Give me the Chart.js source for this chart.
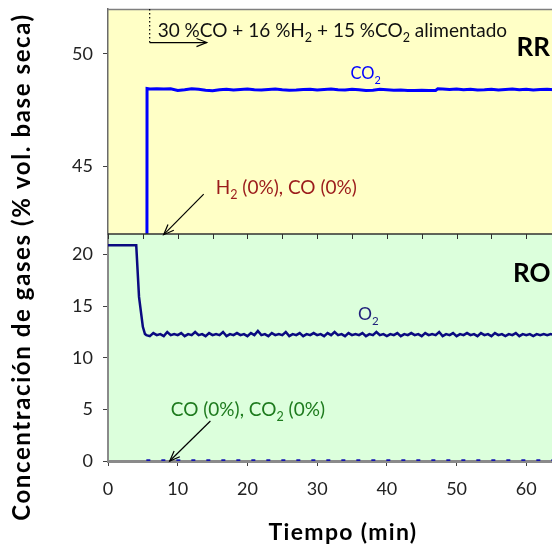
<!DOCTYPE html>
<html>
<head>
<meta charset="utf-8">
<script src="https://cdn.jsdelivr.net/npm/chart.js@4.4.1/dist/chart.umd.min.js"></script>
<style>
html,body{margin:0;padding:0;background:#fff;overflow:hidden;width:552px;height:548px;}
#wrap{position:absolute;left:0;top:0;width:600px;height:548px;}
</style>
</head>
<body>
<div id="wrap"><canvas id="c" width="600" height="548"></canvas></div>
<script>
// ---------- data ----------
const xTicks = [0, 10, 20, 30, 40, 50, 60];
const topTicks = [45, 50];
const botTicks = [0, 5, 10, 15, 20];

// RR (top panel): CO2 in outlet
const co2Time = [0, 5.5, 5.6, 6, 7, 8, 9, 10, 11, 12, 13, 14, 15, 16, 17, 18, 19, 20, 21, 22, 23, 24, 25, 26, 27, 28, 29, 30, 31, 32, 33, 34, 35, 36, 37, 38, 39, 40, 41, 42, 43, 44, 45, 46, 47, 47.3, 48, 49, 50, 51, 52, 53, 54, 55, 56, 57, 58, 59, 60, 61, 62, 63, 64];
const co2Val  = [0, 0, 48.47, 48.45, 48.46, 48.44, 48.45, 48.38, 48.41, 48.46, 48.43, 48.39, 48.37, 48.41, 48.43, 48.40, 48.42, 48.44, 48.41, 48.40, 48.42, 48.44, 48.41, 48.39, 48.40, 48.42, 48.43, 48.40, 48.42, 48.44, 48.41, 48.40, 48.43, 48.41, 48.38, 48.39, 48.43, 48.41, 48.39, 48.40, 48.38, 48.38, 48.39, 48.38, 48.38, 48.45, 48.44, 48.42, 48.44, 48.41, 48.43, 48.40, 48.41, 48.43, 48.40, 48.42, 48.44, 48.41, 48.43, 48.40, 48.42, 48.43, 48.41];

// RO (bottom panel): O2 in outlet
const o2Time = [0, 1, 2, 3, 4, 4.05, 4.45, 5.0, 5.3, 5.5, 6.0, 6.5, 7.0, 7.5, 8.0, 8.5, 9.0, 9.5, 10.0, 10.5, 11.0, 11.5, 12.0, 12.5, 13.0, 13.5, 14.0, 14.5, 15.0, 15.5, 16.0, 16.5, 17.0, 17.5, 18.0, 18.5, 19.0, 19.5, 20.0, 20.5, 21.0, 21.5, 22.0, 22.5, 23.0, 23.5, 24.0, 24.5, 25.0, 25.5, 26.0, 26.5, 27.0, 27.5, 28.0, 28.5, 29.0, 29.5, 30.0, 30.5, 31.0, 31.5, 32.0, 32.5, 33.0, 33.5, 34.0, 34.5, 35.0, 35.5, 36.0, 36.5, 37.0, 37.5, 38.0, 38.5, 39.0, 39.5, 40.0, 40.5, 41.0, 41.5, 42.0, 42.5, 43.0, 43.5, 44.0, 44.5, 45.0, 45.5, 46.0, 46.5, 47.0, 47.5, 48.0, 48.5, 49.0, 49.5, 50.0, 50.5, 51.0, 51.5, 52.0, 52.5, 53.0, 53.5, 54.0, 54.5, 55.0, 55.5, 56.0, 56.5, 57.0, 57.5, 58.0, 58.5, 59.0, 59.5, 60.0, 60.5, 61.0, 61.5, 62.0, 62.5, 63.0, 63.5, 64.0];
const o2Val  = [20.9, 20.9, 20.9, 20.9, 20.9, 20.9, 15.9, 13.0, 12.3, 12.2, 12.1, 12.4, 12.2, 12.3, 12.1, 12.5, 12.2, 12.3, 12.2, 12.4, 12.1, 12.3, 12.2, 12.5, 12.2, 12.3, 12.1, 12.4, 12.2, 12.3, 12.2, 12.5, 12.1, 12.3, 12.2, 12.4, 12.2, 12.3, 12.1, 12.4, 12.2, 12.6, 12.2, 12.3, 12.1, 12.4, 12.2, 12.3, 12.2, 12.5, 12.1, 12.3, 12.2, 12.4, 12.1, 12.3, 12.2, 12.4, 12.2, 12.3, 12.1, 12.4, 12.2, 12.5, 12.2, 12.3, 12.1, 12.4, 12.2, 12.3, 12.2, 12.4, 12.1, 12.3, 12.2, 12.5, 12.2, 12.3, 12.1, 12.3, 12.2, 12.4, 12.1, 12.3, 12.2, 12.4, 12.2, 12.3, 12.1, 12.4, 12.2, 12.3, 12.2, 12.5, 12.1, 12.3, 12.2, 12.4, 12.1, 12.3, 12.2, 12.4, 12.2, 12.3, 12.1, 12.4, 12.2, 12.3, 12.1, 12.4, 12.2, 12.3, 12.1, 12.3, 12.2, 12.4, 12.1, 12.3, 12.2, 12.3, 12.1, 12.3, 12.2, 12.3, 12.2, 12.3, 12.2];

// RO: CO and CO2 stay at 0 %
const zeroTime = [5.5, 64];
const coROVal  = [0, 0];

const toXY = (t, v) => t.map((x, i) => ({ x: x, y: v[i] }));

// ---------- annotations (data coordinates) ----------
const FONT = 'Lato';
const texts = [
  { axis: 'yTop', x: 7.13, y: 50.77, size: 19, weight: 'normal', color: '#111',
    parts: [{t: '30 %CO + 16 %H'}, {t: '2', sub: true}, {t: ' + 15 %CO'}, {t: '2', sub: true}, {t: ' alimentado'}] },
  { axis: 'yTop', x: 58.6, y: 49.93, size: 26, weight: 'bold', color: '#000', parts: [{t: 'RR'}] },
  { axis: 'yTop', x: 34.78, y: 48.87, size: 16.5, weight: 'normal', color: '#0000ff', parts: [{t: 'CO'}, {t: '2', sub: true}] },
  { axis: 'yTop', x: 15.45, y: 43.77, size: 19, weight: 'normal', color: '#9b1b1b',
    parts: [{t: 'H'}, {t: '2', sub: true}, {t: ' (0%), CO (0%)'}] },
  { axis: 'yBot', x: 58.1, y: 17.35, size: 26, weight: 'bold', color: '#000', parts: [{t: 'RO'}] },
  { axis: 'yBot', x: 35.87, y: 13.7, size: 17.5, weight: 'normal', color: '#1f1f7a', parts: [{t: 'O'}, {t: '2', sub: true}] },
  { axis: 'yBot', x: 9.0, y: 4.36, size: 19, weight: 'normal', color: '#1e7b1e',
    parts: [{t: 'CO (0%), CO'}, {t: '2', sub: true}, {t: ' (0%)'}] }
];
const arrows = [
  { axis: 'yTop', x1: 5.98, y1: 50.51, x2: 14.16, y2: 50.51 },
  { axis: 'yTop', x1: 13.73, y1: 43.77, x2: 7.99, y2: 41.97 },
  { axis: 'yBot', x1: 14.69, y1: 3.88, x2: 8.85, y2: 0.0 }
];
const feedLine = { axis: 'yTop', x: 5.98, y1: 52, y2: 50.51 };

function drawRich(ctx, x, y, a) {
  ctx.fillStyle = a.color; ctx.textAlign = 'left'; ctx.textBaseline = 'alphabetic';
  for (const p of a.parts) {
    const s = p.sub ? a.size * 0.66 : a.size;
    ctx.font = a.weight + ' ' + s + 'px ' + FONT;
    ctx.fillText(p.t, x, y + (p.sub ? a.size * 0.28 : 0));
    x += ctx.measureText(p.t).width;
  }
}
function drawArrow(ctx, x1, y1, x2, y2) {
  ctx.strokeStyle = '#000'; ctx.lineWidth = 1.2;
  ctx.beginPath(); ctx.moveTo(x1, y1); ctx.lineTo(x2, y2); ctx.stroke();
  const ang = Math.atan2(y2 - y1, x2 - x1), L = 11, w = 0.38;
  ctx.beginPath();
  ctx.moveTo(x2 - L * Math.cos(ang - w), y2 - L * Math.sin(ang - w));
  ctx.lineTo(x2, y2);
  ctx.lineTo(x2 - L * Math.cos(ang + w), y2 - L * Math.sin(ang + w));
  ctx.stroke();
}

const panelPlugin = {
  id: 'panels',
  beforeDraw(chart) {
    const ctx = chart.ctx, ca = chart.chartArea, s = chart.scales;
    ctx.save();
    ctx.fillStyle = '#fff'; ctx.fillRect(0, 0, chart.width, chart.height);
    ctx.fillStyle = '#ffffc6';
    ctx.fillRect(ca.left, s.yTop.top, ca.right - ca.left, s.yTop.bottom - s.yTop.top);
    ctx.fillStyle = '#dcffdc';
    ctx.fillRect(ca.left, s.yBot.top, ca.right - ca.left, s.yBot.bottom - s.yBot.top);
    ctx.restore();
  },
  beforeDatasetDraw(chart, args) {
    const ctx = chart.ctx, ca = chart.chartArea, ys = args.meta.yScale;
    ctx.save();
    ctx.beginPath();
    ctx.rect(ca.left, ys.top, ca.right - ca.left, ys.bottom - ys.top + (ys.id === 'yBot' ? 4 : 0));
    ctx.clip();
  },
  afterDatasetDraw(chart) { chart.ctx.restore(); },
  afterDraw(chart) {
    const ctx = chart.ctx, ca = chart.chartArea, s = chart.scales, xs = s.x;
    ctx.save();
    // top border of RR panel
    ctx.strokeStyle = '#7f7f7f'; ctx.lineWidth = 1.5;
    ctx.beginPath(); ctx.moveTo(ca.left, s.yTop.top + 0.5); ctx.lineTo(ca.right, s.yTop.top + 0.5); ctx.stroke();
    // boundary between panels with minor ticks
    const yb = s.yTop.bottom;
    ctx.strokeStyle = '#303030'; ctx.lineWidth = 1.5;
    ctx.beginPath(); ctx.moveTo(ca.left, yb); ctx.lineTo(ca.right, yb); ctx.stroke();
    ctx.lineWidth = 1;
    for (let v = xs.min; v <= xs.max; v += 5) {
      const px = Math.round(xs.getPixelForValue(v)) + 0.5;
      ctx.beginPath(); ctx.moveTo(px, yb); ctx.lineTo(px, yb + 5); ctx.stroke();
    }
    // feed marker (dotted)
    ctx.strokeStyle = '#000'; ctx.lineWidth = 1.2; ctx.setLineDash([1.5, 2.5]);
    const fx = xs.getPixelForValue(feedLine.x);
    ctx.beginPath(); ctx.moveTo(fx, s.yTop.getPixelForValue(feedLine.y1)); ctx.lineTo(fx, s.yTop.getPixelForValue(feedLine.y2)); ctx.stroke();
    ctx.setLineDash([]);
    for (const a of arrows) {
      const ys = s[a.axis];
      drawArrow(ctx, xs.getPixelForValue(a.x1), ys.getPixelForValue(a.y1), xs.getPixelForValue(a.x2), ys.getPixelForValue(a.y2));
    }
    for (const a of texts) {
      const ys = s[a.axis];
      drawRich(ctx, xs.getPixelForValue(a.x), ys.getPixelForValue(a.y), a);
    }
    // axis titles
    ctx.fillStyle = '#000'; ctx.textAlign = 'center'; ctx.textBaseline = 'middle';
    ctx.letterSpacing = '1.3px';
    ctx.font = 'bold 23px ' + FONT;
    ctx.fillText('Tiempo (min)', 343, 533);
    ctx.translate(22, 267); ctx.rotate(-Math.PI / 2);
    ctx.letterSpacing = '1.6px';
    ctx.font = 'bold 24px ' + FONT;
    ctx.fillText('Concentración de gases (% vol. base seca)', 0, 0);
    ctx.restore();
  }
};

const noPadY = (sc) => { sc.width = 108; sc.paddingTop = 0; sc.paddingBottom = 0; };
const tickFont = { family: FONT, size: 18 };
new Chart(document.getElementById('c'), {
  type: 'line',
  data: {
    datasets: [
      { label: 'CO2 (RR)', data: toXY(co2Time, co2Val), yAxisID: 'yTop', borderColor: '#0000ff', borderWidth: 3, pointRadius: 0, tension: 0 },
      { label: 'CO, CO2 (RO)', data: toXY(zeroTime, coROVal), yAxisID: 'yBot', borderColor: '#1515b0', borderWidth: 3.5, borderDash: [4, 11], pointRadius: 0, tension: 0 },
      { label: 'O2 (RO)', data: toXY(o2Time, o2Val), yAxisID: 'yBot', borderColor: '#0a0a80', borderWidth: 2.5, pointRadius: 0, tension: 0 }
    ]
  },
  options: {
    responsive: false, animation: false, devicePixelRatio: 1,
    layout: { padding: { top: 9, left: 0, right: 4, bottom: 0 } },
    plugins: { legend: { display: false }, tooltip: { enabled: false } },
    scales: {
      x: {
        type: 'linear', min: 0, max: 70, position: 'bottom',
        afterBuildTicks: (sc) => { sc.ticks = xTicks.map(v => ({ value: v })); },
        afterFit: (sc) => { sc.height = 87; sc.paddingLeft = 0; sc.paddingRight = 0; },
        ticks: { font: tickFont, color: '#222', padding: 12, maxRotation: 0 },
        grid: { drawOnChartArea: false, tickLength: 5, color: '#404040' },
        border: { color: '#8a8a8a', width: 3 }
      },
      yBot: {
        type: 'linear', position: 'left', stack: 'p', stackWeight: 227, min: 0, max: 22,
        afterBuildTicks: (sc) => { sc.ticks = botTicks.map(v => ({ value: v })); },
        afterFit: noPadY,
        ticks: { font: tickFont, color: '#222', padding: 10 },
        grid: { drawOnChartArea: false, tickLength: 5, color: '#404040' },
        border: { color: '#8a8a8a', width: 2 }
      },
      yTop: {
        type: 'linear', position: 'left', stack: 'p', stackWeight: 225, min: 42, max: 52,
        afterBuildTicks: (sc) => { sc.ticks = topTicks.map(v => ({ value: v })); },
        afterFit: noPadY,
        ticks: { font: tickFont, color: '#222', padding: 10 },
        grid: { drawOnChartArea: false, tickLength: 5, color: '#404040' },
        border: { color: '#6a6a6a', width: 1.5 }
      }
    }
  },
  plugins: [panelPlugin]
});
</script>
</body>
</html>
